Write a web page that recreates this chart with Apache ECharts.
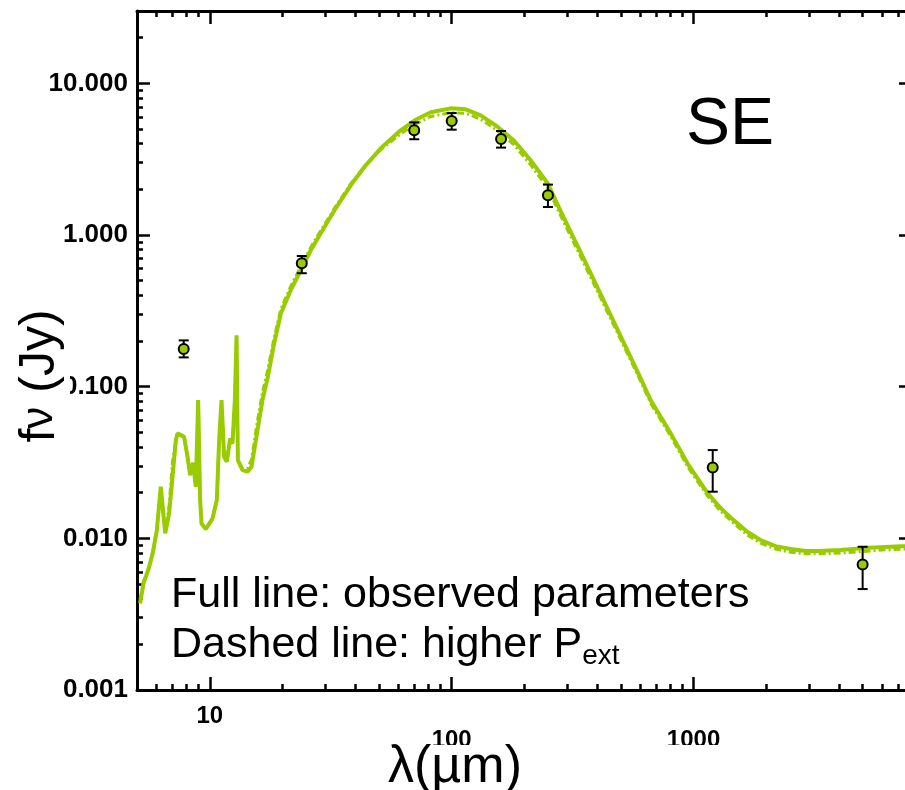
<!DOCTYPE html>
<html>
<head>
<meta charset="utf-8">
<title>SED - SE</title>
<script src="https://cdn.jsdelivr.net/npm/echarts@6/dist/echarts.min.js"></script>
<style>
  html, body { margin: 0; padding: 0; overflow: hidden; background: #fff; }
  #chart { width: 920px; height: 790px; }
</style>
</head>
<body>
<div id="chart"></div>
<script>
// model SED, wavelength in micron
const modelWave = [
  5.15, 5.32, 5.60, 5.81, 6.04, 6.27, 6.54, 6.79, 7.01, 7.24,
  7.35, 7.83, 8.09, 8.29, 8.53, 8.75, 8.95, 9.03, 9.12, 9.24,
  9.62, 10.26, 10.69, 10.93, 11.18, 11.46, 11.76, 12.13, 12.41, 12.69,
  12.90, 13.06, 13.65, 14.31, 14.87, 15.75, 16.51, 17.32, 18.39, 19.66,
  21.61, 23.77, 26.15, 28.75, 33.17, 38.25, 44.12, 50.89, 61.55, 70.33,
  81.9, 99.1, 114.3, 131.8, 152.0, 180.4, 212.1, 249.3, 290.3, 341.4,
  412.8, 499.3, 603.9, 664.2, 803.5, 953.5, 1143, 1293, 1463, 1672,
  1892, 2182, 2517, 2903, 3254, 4049, 5040, 6215, 7516, 8035
];
// full line: observed parameters (Jy)
const fluxObserved = [
  0.00373, 0.00505, 0.00637, 0.00799, 0.0113, 0.0219, 0.0108, 0.0146, 0.0254, 0.0444,
  0.0492, 0.0467, 0.0345, 0.0261, 0.0315, 0.0219, 0.0815, 0.0836, 0.0179, 0.0125,
  0.0115, 0.0135, 0.0179, 0.0444, 0.0815, 0.0345, 0.0320, 0.0456, 0.0422, 0.0815,
  0.2185, 0.0328, 0.0282, 0.0275, 0.0296, 0.0517, 0.0815, 0.1132, 0.1877, 0.3036,
  0.4325, 0.5857, 0.7934, 1.027, 1.501, 2.127, 2.882, 3.730, 4.900, 5.705,
  6.441, 6.843, 6.740, 6.154, 5.287, 4.211, 3.109, 2.193, 1.309, 0.7697,
  0.4071, 0.2152, 0.1138, 0.0815, 0.0494, 0.0304, 0.01987, 0.01583, 0.01319, 0.01100,
  0.00974, 0.00889, 0.00850, 0.00824, 0.00824, 0.00837, 0.00862, 0.00876, 0.00889, 0.00895
];
// dashed line: higher P_ext (Jy)
const fluxHighPext = [
  0.0040, 0.0052, 0.0065, 0.0082, 0.0116, 0.0215, 0.0110, 0.0165, 0.0320, 0.0450,
  0.0488, 0.0462, 0.0342, 0.0262, 0.0312, 0.0220, 0.0800, 0.0820, 0.0180, 0.0126,
  0.0116, 0.0136, 0.0180, 0.0440, 0.0800, 0.0345, 0.0322, 0.0455, 0.0420, 0.0800,
  0.215, 0.0330, 0.0290, 0.0290, 0.0330, 0.0600, 0.0920, 0.127, 0.205, 0.325,
  0.46, 0.62, 0.83, 1.07, 1.55, 2.18, 2.90, 3.65, 4.65, 5.35,
  6.05, 6.40, 6.35, 5.80, 4.98, 3.95, 2.90, 2.04, 1.22, 0.72,
  0.385, 0.205, 0.109, 0.078, 0.0472, 0.0290, 0.0190, 0.0151, 0.0126, 0.0105,
  0.0093, 0.0085, 0.0081, 0.0079, 0.0079, 0.0080, 0.0082, 0.0084, 0.0085, 0.0086
];

// photometry
const obsWave = [7.8, 24, 70, 100, 160, 250, 1200, 5000];
const obsFlux = [0.177, 0.652, 4.9, 5.65, 4.29, 1.83, 0.0293, 0.00673];
const obsLow = [0.156, 0.56, 4.28, 4.95, 3.77, 1.53, 0.0203, 0.00463];
const obsHigh = [0.202, 0.727, 5.53, 6.37, 4.85, 2.15, 0.0382, 0.0088];

const xTickValues = [10, 100, 1000];
const xTickLabels = ['10', '100', '1000'];
const yTickValues = [0.001, 0.01, 0.1, 1, 10];
const yTickLabels = ['0.001', '0.010', '0.100', '1.000', '10.000'];
const xRange = [5, 8000];
const yRange = [0.001, 30];

const green = '#99cc00';
const font = 'Liberation Sans, Arial, Helvetica, sans-serif';

// minor ticks at 2..9 x 10^n, in log10 units for the overlay axes
function minorTicks(lo, hi) {
  const out = [];
  for (let d = Math.floor(Math.log10(lo)); d <= Math.ceil(Math.log10(hi)); d++) {
    for (let k = 2; k <= 9; k++) {
      const v = k * Math.pow(10, d);
      if (v > lo * 1.0001 && v < hi * 0.9999) out.push(Math.log10(v));
    }
  }
  return out;
}

function matchTick(values, labels, v) {
  const i = values.findIndex(t => Math.abs(Math.log10(t) - Math.log10(v)) < 1e-6);
  return i < 0 ? null : labels[i];
}

const chart = echarts.init(document.getElementById('chart'), null, { renderer: 'canvas' });

const majorTick = { show: true, inside: true, length: 13, lineStyle: { color: '#000', width: 2.5 } };
const minorTickStyle = { show: true, inside: true, length: 6, lineStyle: { color: '#000', width: 2.5 } };
const blackLine = { show: true, onZero: false, lineStyle: { color: '#000', width: 3 } };

function logX(position, withLabels) {
  return {
    type: 'log', logBase: 10, position: position, min: xRange[0], max: xRange[1],
    axisLine: blackLine, axisTick: majorTick, splitLine: { show: false },
    axisLabel: withLabels ? {
      show: true, margin: 14, fontFamily: font, fontWeight: 'bold', fontSize: 24, color: '#000',
      formatter: v => {
        const t = matchTick(xTickValues, xTickLabels, v);
        if (t === null) return '';
        return t === '10' ? '{a|' + t + '}' : '{b|' + t + '}';
      },
      rich: {
        a: { fontFamily: font, fontWeight: 'bold', fontSize: 24, color: '#000' },
        b: { fontFamily: font, fontWeight: 'bold', fontSize: 24, color: '#000', padding: [24, 0, 0, 0] }
      }
    } : { show: false }
  };
}
function minorX(position) {
  return {
    type: 'value', position: position, min: Math.log10(xRange[0]), max: Math.log10(xRange[1]),
    axisLine: { show: false, onZero: false }, splitLine: { show: false }, axisLabel: { show: false },
    axisTick: Object.assign({ customValues: minorTicks(xRange[0], xRange[1]) }, minorTickStyle)
  };
}
function logY(position, withLabels) {
  return {
    type: 'log', logBase: 10, position: position, min: yRange[0], max: yRange[1],
    axisLine: blackLine, axisTick: majorTick, splitLine: { show: false },
    axisLabel: withLabels ? {
      show: true, margin: 9, fontFamily: font, fontWeight: 'bold', fontSize: 26, color: '#000',
      formatter: v => matchTick(yTickValues, yTickLabels, v) || ''
    } : { show: false }
  };
}
function minorY(position) {
  return {
    type: 'value', position: position, min: Math.log10(yRange[0]), max: Math.log10(yRange[1]),
    axisLine: { show: false, onZero: false }, splitLine: { show: false }, axisLabel: { show: false },
    axisTick: Object.assign({ customValues: minorTicks(yRange[0], yRange[1]) }, minorTickStyle)
  };
}

const option = {
  backgroundColor: '#fff',
  animation: false,
  title: {
    text: 'SE', left: 686, top: 93, padding: 0,
    textStyle: { fontFamily: font, fontSize: 66, fontWeight: 'normal', color: '#000' }
  },
  grid: { left: 137, top: 11, right: 8, bottom: 100, outerBoundsMode: 'none' },
  xAxis: [logX('bottom', true), logX('top', false), minorX('bottom'), minorX('top')],
  yAxis: [logY('left', true), logY('right', false), minorY('left'), minorY('right')],
  series: [
    {
      name: 'higher Pext', type: 'line', xAxisIndex: 0, yAxisIndex: 0,
      data: modelWave.map((w, i) => [w, fluxHighPext[i]]),
      showSymbol: false, symbol: 'none',
      lineStyle: { color: green, width: 3, type: [7, 3, 2, 3] }
    },
    {
      name: 'observed parameters', type: 'line', xAxisIndex: 0, yAxisIndex: 0,
      data: modelWave.map((w, i) => [w, fluxObserved[i]]),
      showSymbol: false, symbol: 'none',
      lineStyle: { color: green, width: 4 }
    },
    {
      name: 'error bars', type: 'custom', xAxisIndex: 0, yAxisIndex: 0,
      data: obsWave.map((w, i) => [w, obsLow[i], obsHigh[i]]),
      encode: { x: 0, y: [1, 2] },
      z: 5,
      renderItem: (params, api) => {
        const lo = api.coord([api.value(0), api.value(1)]);
        const hi = api.coord([api.value(0), api.value(2)]);
        const hw = 5;
        const st = { stroke: '#000', lineWidth: 2 };
        return {
          type: 'group',
          children: [
            { type: 'line', shape: { x1: lo[0], y1: lo[1], x2: hi[0], y2: hi[1] }, style: st },
            { type: 'line', shape: { x1: lo[0] - hw, y1: lo[1], x2: lo[0] + hw, y2: lo[1] }, style: st },
            { type: 'line', shape: { x1: hi[0] - hw, y1: hi[1], x2: hi[0] + hw, y2: hi[1] }, style: st }
          ]
        };
      }
    },
    {
      name: 'photometry', type: 'scatter', xAxisIndex: 0, yAxisIndex: 0, z: 6,
      data: obsWave.map((w, i) => [w, obsFlux[i]]),
      symbol: 'circle', symbolSize: 10,
      itemStyle: { color: green, borderColor: '#000', borderWidth: 2, opacity: 1 }
    }
  ],
  graphic: [
    // white patches where the original figure's labels overlap the tick numbers
    { type: 'rect', z: 100, shape: { x: 400, y: 745, width: 340, height: 45 }, style: { fill: '#fff' } },
    { type: 'rect', z: 100, shape: { x: 44, y: 374, width: 26, height: 26 }, style: { fill: '#fff' } },
    {
      type: 'text', z: 101, x: 455, y: 768,
      style: { text: 'λ(µm)', fontFamily: font, fontSize: 52, fill: '#000', align: 'center', verticalAlign: 'middle' }
    },
    {
      type: 'text', z: 101, x: 40, y: 376, rotation: Math.PI / 2,
      style: {
        text: '{f|f}{n|ν}{f| (Jy)}', align: 'center', verticalAlign: 'middle',
        rich: {
          f: { fontFamily: font, fontSize: 50, fill: '#000' },
          n: { fontFamily: font, fontSize: 44, fill: '#000' }
        }
      }
    },
    {
      type: 'text', z: 101, x: 171, y: 570,
      style: {
        text: '{m|Full line: observed parameters}\n{m|Dashed line: higher P}{s|ext}',
        rich: {
          m: { fontFamily: font, fontSize: 43, lineHeight: 50, fill: '#000' },
          s: { fontFamily: font, fontSize: 28, lineHeight: 20, verticalAlign: 'bottom', fill: '#000' }
        }
      }
    }
  ]
};

chart.setOption(option);
</script>
</body>
</html>
